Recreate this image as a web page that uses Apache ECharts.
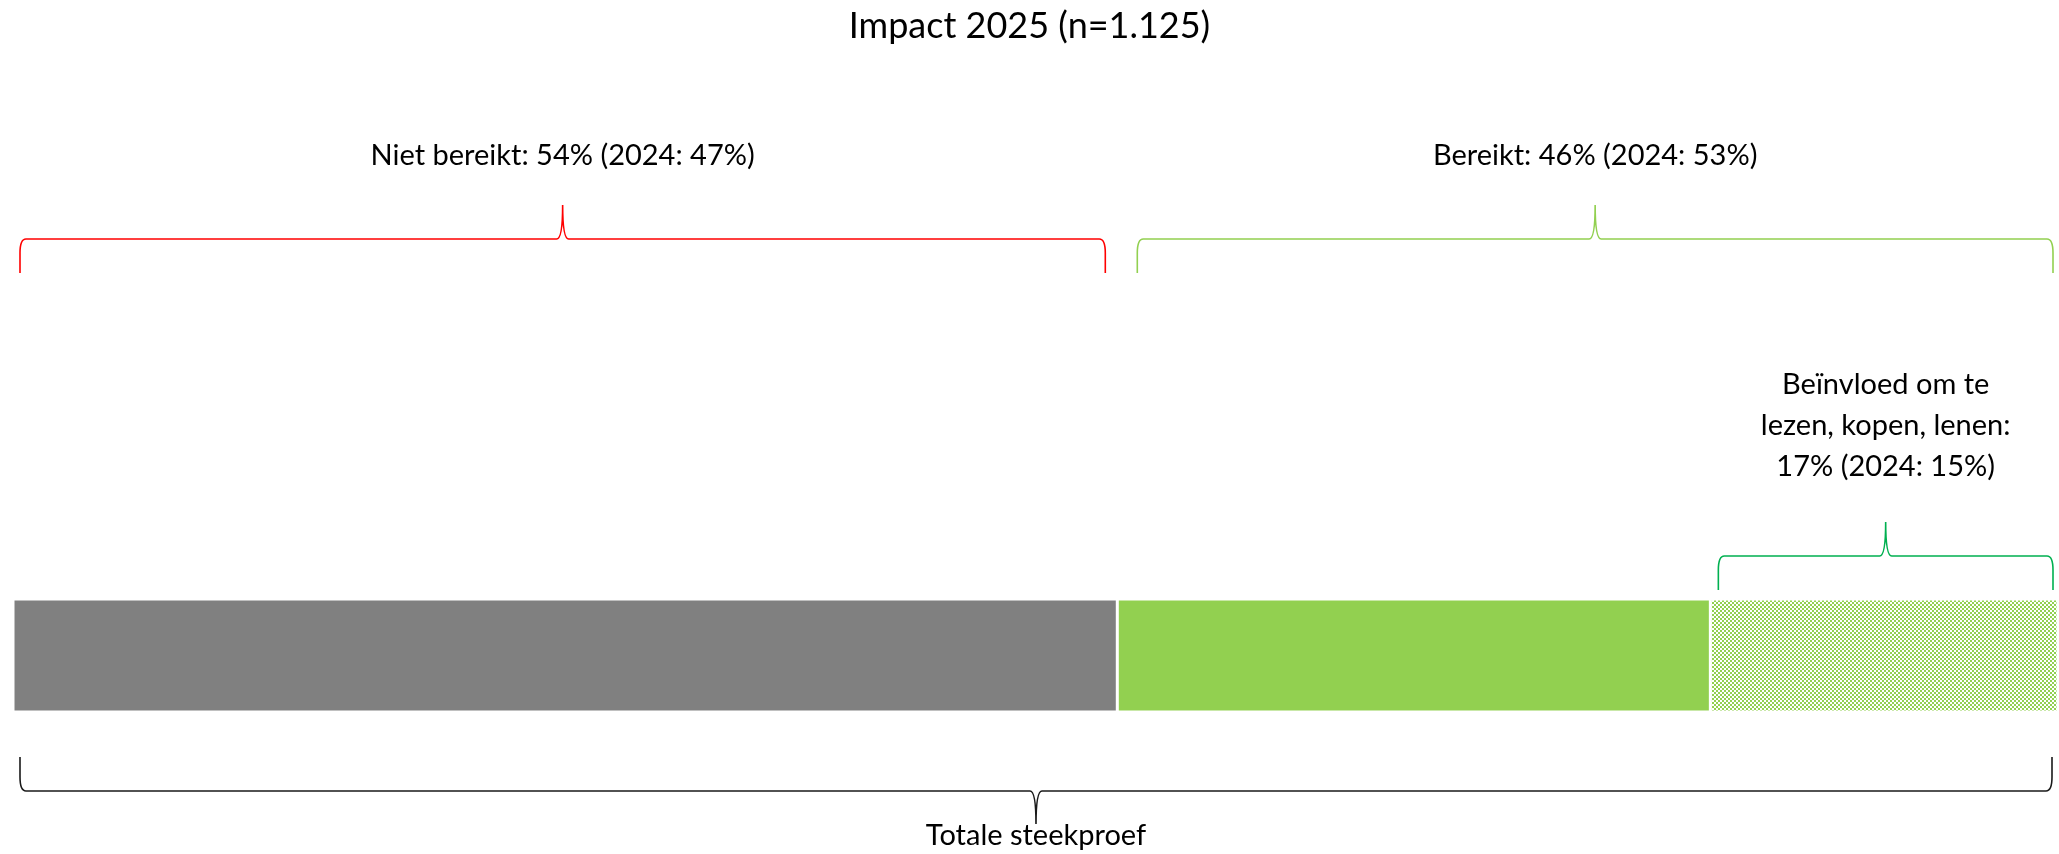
<!DOCTYPE html>
<html>
<head>
<meta charset="utf-8">
<script src="https://cdn.jsdelivr.net/npm/echarts@6/dist/echarts.min.js"></script>
<style>
  html, body { margin: 0; padding: 0; background: #fff; }
  #chart { width: 2059px; height: 854px; }
</style>
</head>
<body>
<div id="chart"></div>
<script>
// Survey reach, 2025 wave
const chartTitle = 'Impact 2025 (n=1.125)';
const categories = ['Totale steekproef'];
const segmentNames = ['Niet bereikt', 'Bereikt', 'Beïnvloed'];
const segmentValues = [54, 29, 17];      // % of total sample, 2025
const reachedValue = 46;                 // Bereikt incl. beïnvloed
const values2024 = { notReached: 47, reached: 53, influenced: 15 };

const FONT = 'Lato, "Noto Sans", sans-serif';
const GREY = '#808080';
const GREEN = '#92D050';

// Small checkerboard fill (2px cells) for the "beïnvloed" part of the bar
function checkerPattern() {
  const c = document.createElement('canvas');
  c.width = 4; c.height = 4;
  const ctx = c.getContext('2d');
  ctx.fillStyle = GREEN;
  ctx.fillRect(0, 0, 4, 4);
  ctx.fillStyle = '#ffffff';
  ctx.fillRect(0, 0, 2, 2);
  ctx.fillRect(2, 2, 2, 2);
  return c;
}

const start1 = segmentValues[0];
const start2 = segmentValues[0] + segmentValues[1];
const total = segmentValues.reduce((a, b) => a + b, 0);

// Brace spans in data units: [from, to, styleIndex]
const braceSpans = [
  [0, start1, 0],
  [start1, total, 1],
  [start2, total, 2],
  [0, total, 3]
];
const braceLabels = [
  'Niet bereikt: ' + segmentValues[0] + '% (2024: ' + values2024.notReached + '%)',
  'Bereikt: ' + reachedValue + '% (2024: ' + values2024.reached + '%)',
  'Beïnvloed om te\nlezen, kopen, lenen:\n' + segmentValues[2] + '% (2024: ' + values2024.influenced + '%)',
  categories[0]
];
// Drawing style per brace: colour, side of the bar, distance of the brace ends from the bar
const braceLook = [
  { color: '#FF0000', side: 'top', gap: 326, insetL: 7, insetR: 12, labelOff: 49 },
  { color: GREEN, side: 'top', gap: 326, insetL: 20, insetR: 5, labelOff: 49 },
  { color: '#00B050', side: 'top', gap: 9, insetL: 8, insetR: 5, labelOff: 96 },
  { color: '#1a1a1a', side: 'bottom', gap: 45, insetL: 7, insetR: 6, labelOff: 12 }
];

function bracePath(x1, x2, yEnd, yLine, yTip) {
  const dir = yLine < yEnd ? -1 : 1;   // -1: opens downwards (brace above the bar)
  const xm = (x1 + x2) / 2;
  const r = 6, h = 14, w = 6;
  return [
    'M', x1, yEnd,
    'L', x1, yLine - dir * h,
    'Q', x1, yLine, x1 + r, yLine,
    'L', xm - w, yLine,
    'Q', xm, yLine, xm, yTip,
    'Q', xm, yLine, xm + w, yLine,
    'L', x2 - r, yLine,
    'Q', x2, yLine, x2, yLine - dir * h,
    'L', x2, yEnd
  ].join(' ');
}

function renderBrace(params, api) {
  const idx = api.value(2);
  const look = braceLook[idx];
  const x1 = api.coord([api.value(0), 0])[0] + look.insetL;
  const x2 = api.coord([api.value(1), 0])[0] - look.insetR;
  const center = api.coord([0, 0])[1];
  const band = api.size([0, 1])[1];
  const barTop = center - band / 2;
  const barBottom = center + band / 2;
  const span = 34;
  let yEnd, yLine, yTip, labelY;
  if (look.side === 'top') {
    yEnd = barTop - look.gap;
    yLine = yEnd - span;
    yTip = yLine - span;
    labelY = yTip - look.labelOff;
  } else {
    yEnd = barBottom + look.gap;
    yLine = yEnd + span;
    yTip = yLine + 33;
    labelY = yTip + look.labelOff;
  }
  const xm = (x1 + x2) / 2;
  return {
    type: 'group',
    children: [
      {
        type: 'path',
        shape: { pathData: bracePath(x1, x2, yEnd, yLine, yTip) },
        style: { fill: null, stroke: look.color, lineWidth: 1.6 }
      },
      {
        type: 'text',
        style: {
          x: xm, y: labelY,
          text: braceLabels[idx],
          fill: '#000',
          fontFamily: FONT, fontSize: 29,
          lineHeight: 41,
          align: 'center', verticalAlign: 'middle'
        }
      }
    ]
  };
}

const chart = echarts.init(document.getElementById('chart'), null, { renderer: 'canvas' });
const segColors = [GREY, GREEN, { image: checkerPattern(), repeat: 'repeat' }];

chart.setOption({
  animation: false,
  backgroundColor: '#fff',
  title: {
    text: chartTitle,
    left: 'center',
    top: 3,
    textStyle: { fontFamily: FONT, fontSize: 36, fontWeight: 'normal', color: '#000' }
  },
  grid: { left: 13, right: 1, top: 599, height: 113 },
  xAxis: { type: 'value', min: 0, max: 100, show: false },
  yAxis: { type: 'category', data: categories, show: false },
  series: segmentNames.map((name, i) => ({
    name: name,
    type: 'bar',
    stack: 'total',
    barWidth: '100%',
    data: [segmentValues[i]],
    itemStyle: { color: segColors[i], borderColor: '#ffffff', borderWidth: 1.5 }
  })).concat([{
    type: 'custom',
    renderItem: renderBrace,
    encode: { x: [0, 1] },
    data: braceSpans,
    z: 10
  }])
});
</script>
</body>
</html>
